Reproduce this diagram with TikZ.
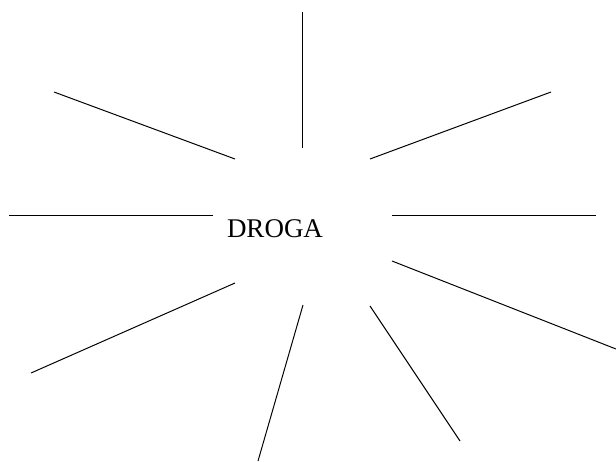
\documentclass[tikz,border=0pt]{standalone}
\usepackage{fontspec}
\setmainfont{Liberation Serif}
\usepackage{tikz}
\usetikzlibrary{positioning}

\tikzset{
  ray/.style={line width=0.7pt, black},
  title/.style={font=\fontsize{19.2}{23}\selectfont, inner sep=0pt}
}

\begin{document}
\begin{tikzpicture}[x=0.025cm, y=-0.025cm]
                \useasboundingbox (0,0) rectangle (616,461);

                % Centre word
                \node[title, anchor=base] (droga) at (275,237) {DROGA};

                % Ray ends
                \coordinate (n-in) at (302,148);   \coordinate (n-out) at (302,12);
                \coordinate (nw-in) at (235,159);  \coordinate (nw-out) at (54,92);
                \coordinate (ne-in) at (370,159);  \coordinate (ne-out) at (551,92);
                \coordinate (w-in) at (213,215);   \coordinate (w-out) at (9,215);
                \coordinate (e-in) at (392,215);   \coordinate (e-out) at (596,215);
                \coordinate (sw-in) at (235,283);  \coordinate (sw-out) at (31,373);
                \coordinate (s-in) at (303,305);   \coordinate (s-out) at (258,461);
                \coordinate (se-in) at (370,306);  \coordinate (se-out) at (460,441);
                \coordinate (ese-in) at (392,261); \coordinate (ese-out) at (616,349);

                % Rays
                \foreach \r in {n, nw, ne, w, e, sw, s, se, ese}
                  \draw[ray] (\r-in) -- (\r-out);
            \end{tikzpicture}
\end{document}
